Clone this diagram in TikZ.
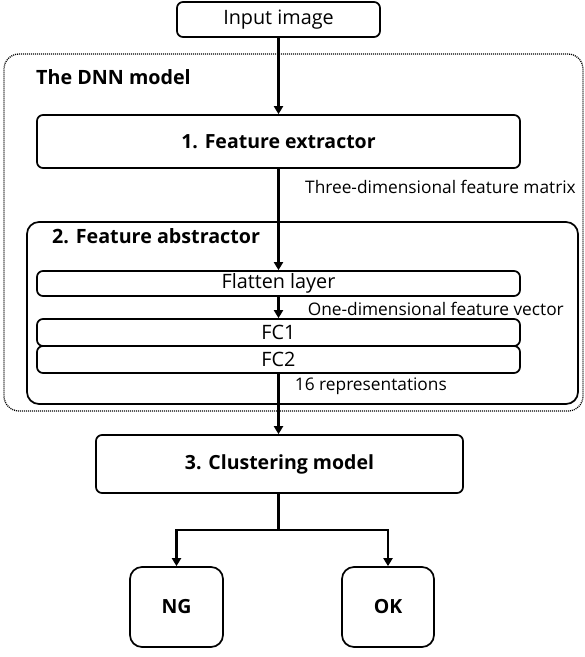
\documentclass[tikz,border=0pt]{standalone}
\usepackage{fontspec}
\setmainfont{Open Sans}
\usetikzlibrary{arrows.meta}
\begin{document}
\begin{tikzpicture}[x=1pt,y=-1pt,
  box/.style={draw, line width=1.7pt, rounded corners=6pt, inner sep=0pt},
  conn/.style={line width=2.8pt, -{Triangle[width=9pt,length=8pt]}},
  plainline/.style={line width=2.8pt},
  txt/.style={font=\fontsize{19.8}{21}\selectfont},
  bold/.style={font=\fontsize{19.5}{21}\selectfont\bfseries},
  small/.style={font=\fontsize{17.3}{19}\selectfont, inner sep=0pt},
  title/.style={font=\fontsize{19.7}{21}\selectfont\bfseries, inner sep=0pt}]
\useasboundingbox (0,0) rectangle (585,657);
% containers
\node[draw, line width=1.3pt, dash pattern=on 1pt off 1pt, rounded corners=15pt,
      minimum width=579pt, minimum height=357pt, inner sep=0pt] (dnn) at (293.5,232.5) {};
\node[box, rounded corners=12pt, minimum width=551pt, minimum height=182pt] (abs) at (302.5,313) {};
% boxes
\node[box, txt, minimum width=203pt, minimum height=35pt] (input) at (278.5,19.5) {Input image};
\node[box, bold, minimum width=483pt, minimum height=53pt] (ext) at (278.5,141.5) {1. Feature extractor};
\node[box, txt, minimum width=483pt, minimum height=25pt] (flat) at (278.5,283.5) {Flatten layer};
\node[box, txt, minimum width=483pt, minimum height=27pt] (fc1) at (278.5,332.5) {FC1};
\node[box, txt, minimum width=483pt, minimum height=27pt] (fc2) at (278.5,359.5) {FC2};
\node[box, bold, minimum width=367pt, minimum height=58pt] (clu) at (279.5,464) {3. Clustering model};
\node[box, bold, rounded corners=12pt, minimum width=93pt, minimum height=80pt] (ng) at (176.5,607) {NG};
\node[box, bold, rounded corners=12pt, minimum width=92pt, minimum height=80pt] (ok) at (388,607) {OK};
% labels
\node[title, anchor=west] (dnnlbl) at (36,77) {The DNN model};
\node[title, anchor=west] (abslbl) at (52,236) {2. Feature abstractor};
\node[small, anchor=east] (l1) at (576,187) {Three-dimensional feature matrix};
\node[small, anchor=east] (l2) at (564,309) {One-dimensional feature vector};
\node[small, anchor=east] (l3) at (447,386) {16 representations};
% connectors
\coordinate (split) at (278.5,530);
\draw[conn] (input.south) -- (ext.north);
\draw[conn] (ext.south) -- (flat.north);
\draw[conn] (flat.south) -- (fc1.north);
\draw[conn] (fc2.south) -- (clu.north -| fc2.south);
\draw[plainline] (clu.south -| split) -- (split);
\draw[conn] (split) -| (ng.north);
\draw[conn] (split) -| (ok.north);
\end{tikzpicture}
\end{document}
